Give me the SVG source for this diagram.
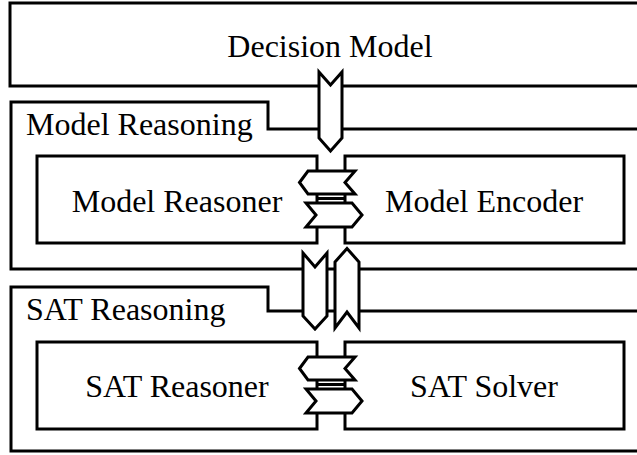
<svg xmlns="http://www.w3.org/2000/svg" width="637" height="455" viewBox="0 0 637 455">
<style>
.b{fill:none;stroke:#000;stroke-width:3;stroke-linejoin:miter}
.c{fill:#fff;stroke:#000;stroke-width:3;stroke-linejoin:miter}
.l{fill:none;stroke:#000;stroke-width:3}
text{font-family:"Liberation Serif","Times New Roman",serif;font-size:32px;fill:#000}
.m{text-anchor:middle}
</style>
<rect width="637" height="455" fill="#fff"/>
<g id="decision-model">
<path class="b" d="M640,3 H10 V86 H640"/>
<text class="m" x="330" y="57">Decision Model</text>
</g>
<g id="model-reasoning">
<path class="b" d="M640,129 H268 V102 H11 V269 H640"/>
<text x="26" y="135">Model Reasoning</text>
</g>
<g id="model-reasoner">
<rect class="b" x="37" y="156" width="280" height="87"/>
<text class="m" x="177" y="212">Model Reasoner</text>
</g>
<g id="model-encoder">
<rect class="b" x="345" y="156" width="279" height="87"/>
<text class="m" x="484" y="212">Model Encoder</text>
</g>
<g id="sat-reasoning">
<path class="b" d="M640,311 H268 V287 H11 V451 H640"/>
<text x="26" y="320">SAT Reasoning</text>
</g>
<g id="sat-reasoner">
<rect class="b" x="37" y="342" width="280" height="87"/>
<text class="m" x="177" y="397">SAT Reasoner</text>
</g>
<g id="sat-solver">
<rect class="b" x="345" y="342" width="279" height="87"/>
<text class="m" x="484" y="397">SAT Solver</text>
</g>
<g id="connectors">
<line class="l" x1="317" y1="198.5" x2="345" y2="198.5"/>
<line class="l" x1="317" y1="384.5" x2="345" y2="384.5"/>
<path class="c" d="M319,72 L330.5,85 L342,72 V138 L330.5,151 L319,138 Z"/>
<path class="c" d="M299.5,182.5 L308,171 H355 L345,182.5 L355,194 H308 Z"/>
<path class="c" d="M306,203 H352 L362,215 L352,227 H306 L316,215 Z"/>
<path class="c" d="M303,253 L315,267 L327,253 V316 L315,329 L303,316 Z"/>
<path class="c" d="M335,262 L347,248.5 L359,262 V328 L347,312 L335,328 Z"/>
<path class="c" d="M299.5,368.5 L308,357 H355 L345,368.5 L355,380 H308 Z"/>
<path class="c" d="M306,389 H352 L362,401 L352,413 H306 L316,401 Z"/>
</g>
</svg>
